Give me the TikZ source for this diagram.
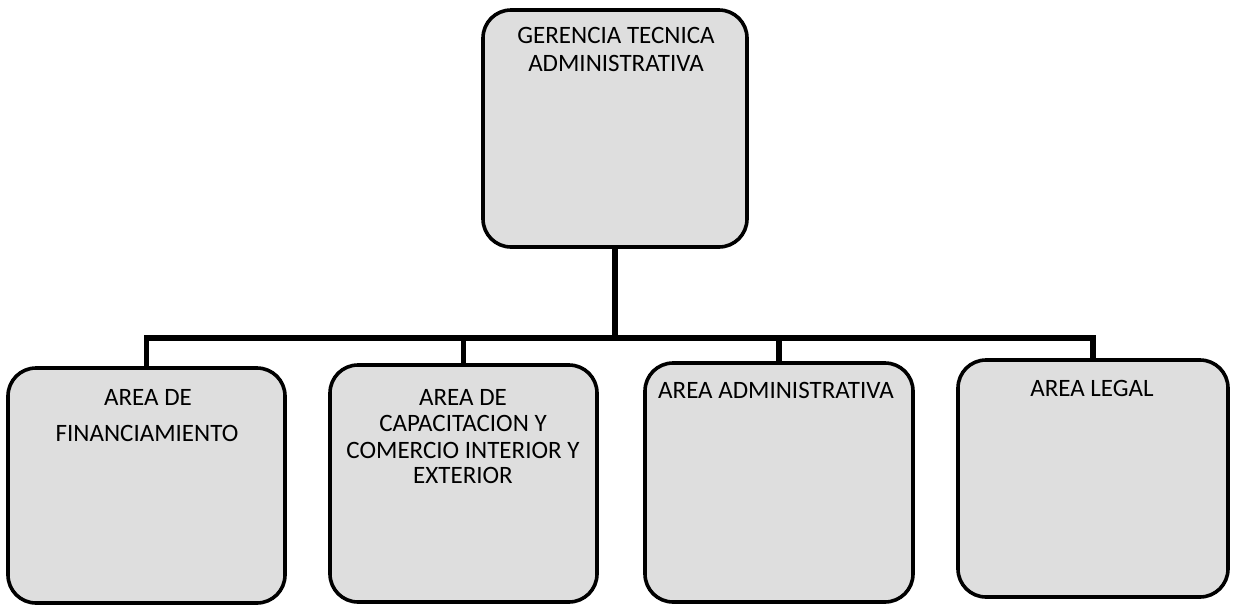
\documentclass[tikz,border=0pt]{standalone}
\usepackage{fontspec}
\setmainfont{Carlito}
\begin{document}
\begin{tikzpicture}[x=0.5pt,y=-0.5pt,
  orgbox/.style={draw=black, line width=1.8pt, rounded corners=14pt, fill=black!13, inner sep=0pt},
  orgtext/.style={font=\fontsize{12.5}{13.5}\selectfont, align=center, inner sep=0pt},
  link/.style={line width=2.6pt}]
\useasboundingbox (0,0) rectangle (1239,606);
% boxes
\node[orgbox, minimum width=132pt, minimum height=118.5pt] (top) at (615,128.5) {};
\node[orgbox, minimum width=138.5pt, minimum height=117.5pt] (b1) at (146.5,485.5) {};
\node[orgbox, minimum width=133.5pt, minimum height=118.5pt] (b2) at (463.5,483.5) {};
\node[orgbox, minimum width=134pt, minimum height=119.5pt] (b3) at (779,482.5) {};
\node[orgbox, minimum width=135pt, minimum height=118.5pt] (b4) at (1093,478.5) {};
% texts
\node[orgtext] (t0a) at (616,35) {GERENCIA TECNICA};
\node[orgtext] (t0b) at (616,63) {ADMINISTRATIVA};
\node[orgtext] (t1a) at (148,397) {AREA DE};
\node[orgtext] (t1b) at (147,433) {FINANCIAMIENTO};
\node[orgtext] (t2a) at (463,397) {AREA DE};
\node[orgtext] (t2b) at (463,423) {CAPACITACION Y};
\node[orgtext] (t2c) at (463,450) {COMERCIO INTERIOR Y};
\node[orgtext] (t2d) at (463,475) {EXTERIOR};
\node[orgtext] (t3a) at (776,390) {AREA ADMINISTRATIVA};
\node[orgtext] (t4a) at (1092,388) {AREA LEGAL};
% connectors
\coordinate (bus) at (617,338);
\draw[link] (top.south) -- (top.south |- bus);
\draw[link, line cap=rect] (b1.north) -- (b1.north |- bus) -- (b4.north |- bus) -- (b4.north);
\draw[link] (b2.north) -- (b2.north |- bus);
\draw[link] (b3.north) -- (b3.north |- bus);
\end{tikzpicture}
\end{document}
